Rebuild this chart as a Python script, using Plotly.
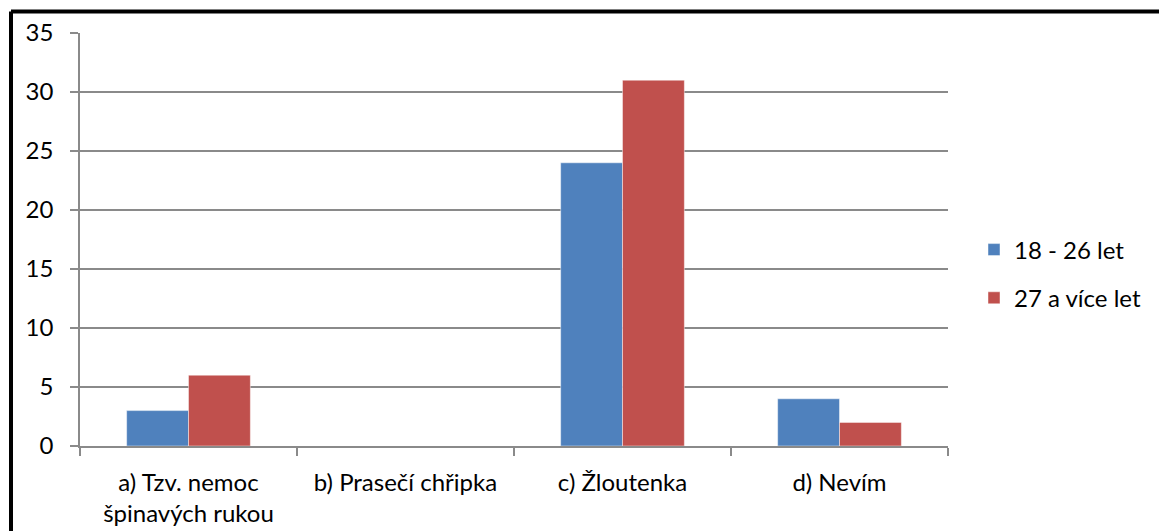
import plotly.graph_objects as go

# Survey answers by age group
categories = ["a) Tzv. nemoc<br>špinavých rukou", "b) Prasečí chřipka", "c) Žloutenka", "d) Nevím"]
series_names = ["18 - 26 let", "27 a více let"]
values_young = [3, 0, 24, 4]
values_older = [6, 0, 31, 2]
y_ticks = [0, 5, 10, 15, 20, 25, 30, 35]

colors = ["#4F81BD", "#C0504D"]
FONT = "Lato"
FS = 24

W, H = 1159, 531
L, R, T, B = 80, 948, 33, 446  # plot area in pixels


def px_x(p):
    return (p - L) / (R - L)


def px_y(p):
    return (B - p) / (B - T)


fig = go.Figure()
for name, vals, col, grp in zip(series_names, [values_young, values_older], colors, ["g1", "g2"]):
    fig.add_trace(go.Bar(
        x=categories, y=vals, name=name, legendgroup=grp,
        marker=dict(color=col, line=dict(color="rgba(255,255,255,0.45)", width=1)),
    ))

fig.update_layout(
    width=W, height=H,
    margin=dict(l=L, r=W - R, t=T, b=H - B, pad=0),
    paper_bgcolor="white", plot_bgcolor="white",
    barmode="group", bargap=0.43, bargroupgap=0,
    font=dict(family=FONT, size=FS, color="black"),
    legend=dict(
        x=px_x(974), y=px_y(274), xanchor="left", yanchor="middle",
        font=dict(family=FONT, size=FS, color="black"),
        tracegroupgap=14, bgcolor="rgba(0,0,0,0)",
    ),
    xaxis=dict(
        automargin=False,
        showline=True, linecolor="#8a8a8a", linewidth=1.5,
        ticks="outside", tickson="boundaries", ticklen=8, tickwidth=1.5, tickcolor="#8a8a8a",
        showgrid=False, ticklabelstandoff=14,
        tickfont=dict(family=FONT, size=FS, color="black"),
    ),
    yaxis=dict(
        automargin=False,
        range=[0, 35], tickvals=y_ticks,
        showline=True, linecolor="#8a8a8a", linewidth=1.5,
        ticks="outside", ticklen=8, tickwidth=1.5, tickcolor="#8a8a8a",
        showgrid=True, gridcolor="#8a8a8a", gridwidth=1.5,
        zeroline=False, ticklabelstandoff=12,
        tickfont=dict(family=FONT, size=FS, color="black"),
    ),
    shapes=[
        # frame around the chart
        dict(type="line", xref="paper", yref="paper",
             x0=px_x(11), x1=px_x(1200), y0=px_y(11.5), y1=px_y(11.5),
             line=dict(color="black", width=4)),
        dict(type="line", xref="paper", yref="paper",
             x0=px_x(11), x1=px_x(11), y0=px_y(11.5), y1=px_y(600),
             line=dict(color="black", width=4)),
    ],
)

fig.write_html("out.html")
